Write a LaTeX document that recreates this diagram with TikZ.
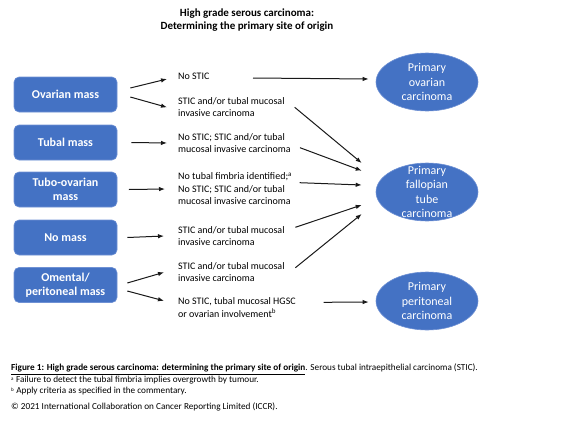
\documentclass[tikz,border=0pt]{standalone}
\usepackage{fontspec}
\setmainfont{Carlito}
\usetikzlibrary{shapes.geometric,arrows.meta}
\definecolor{boxblue}{HTML}{4472C4}
\definecolor{rimblue}{HTML}{6F91D4}

\begin{document}
\begin{tikzpicture}[x=1pt,y=-1pt,
    mass/.style={draw=rimblue, line width=.6pt, fill=boxblue, rounded corners=5pt,
        minimum width=103pt, minimum height=35pt, inner sep=2pt, align=center,
        text=white, font=\fontsize{12}{14.5}\selectfont\bfseries},
    finding/.style={anchor=west, inner sep=2pt, align=left,
        font=\fontsize{10}{12.5}\selectfont},
    origin/.style={ellipse, draw=rimblue, line width=.6pt, fill=boxblue,
        minimum width=102pt, minimum height=58pt, inner xsep=0pt, inner ysep=-8pt,
        align=center, text=white, font=\fontsize{12}{14.5}\selectfont},
    flow/.style={-{Latex[length=6pt,width=4.5pt]}, line width=1pt, black!90}]

    \useasboundingbox (0,0) rectangle (562,421);

    %title:
    \node[align=center, font=\fontsize{11}{12.5}\selectfont\bfseries] (title) at (247,20)
        {High grade serous carcinoma:\\Determining the primary site of origin};

    %draw masses:
    \node[mass] (ovmass) at (65.5,94.5) {Ovarian mass};
    \node[mass] (tubmass) at (65.5,142.5) {Tubal mass};
    \node[mass] (tubovmass) at (65.5,189.5) {Tubo-ovarian\\mass};
    \node[mass] (nomass) at (65.5,237.5) {No mass};
    \node[mass] (omentmass) at (65.5,285) {Omental/\\peritoneal mass};

    %findings:
    \node[finding] (nostic) at (176,76) {No STIC};
    \node[finding] (ovstic) at (176,107.3) {STIC and/or tubal mucosal\\invasive carcinoma};
    \node[finding] (tubstic) at (176,143) {No STIC; STIC and/or tubal\\mucosal invasive carcinoma};
    \node[finding] (fimbria) at (176,189) {No tubal fimbria identified;\textsuperscript{a}\\No STIC; STIC and/or tubal\\mucosal invasive carcinoma};
    \node[finding] (nomstic) at (176,236) {STIC and/or tubal mucosal\\invasive carcinoma};
    \node[finding] (omstic) at (176,272.3) {STIC and/or tubal mucosal\\invasive carcinoma};
    \node[finding] (hgsc) at (176,307.8) {No STIC, tubal mucosal HGSC\\or ovarian involvement\textsuperscript{b}};

    %sites of origin:
    \node[origin] (ovca) at (427,82) {Primary\\ovarian\\carcinoma};
    \node[origin] (ftca) at (427,192) {Primary\\fallopian\\tube\\carcinoma};
    \node[origin] (ppca) at (427,301) {Primary\\peritoneal\\carcinoma};

    %arrows masses to findings:
    \draw[flow] ([xshift=13pt,yshift=6.5pt]ovmass.east) -- ([xshift=-9pt,yshift=-3pt]nostic.west);
    \draw[flow] ([xshift=13pt,yshift=-2.5pt]ovmass.east) -- ([xshift=-9pt]ovstic.west);
    \draw[flow] ([xshift=14pt]tubmass.east) -- ([xshift=-9pt]tubstic.west);
    \draw[flow] ([xshift=11.5pt]tubovmass.east) -- ([xshift=-11pt]fimbria.west);
    \draw[flow] ([xshift=10pt]nomass.east) -- ([xshift=-12pt]nomstic.west);
    \draw[flow] ([xshift=10pt,yshift=2pt]omentmass.east) -- ([xshift=-12pt]omstic.west);
    \draw[flow] ([xshift=10pt,yshift=-6pt]omentmass.east) -- ([xshift=-12pt,yshift=7pt]hgsc.west);

    %arrows findings to sites:
    \draw[flow] ([xshift=77pt,yshift=-2pt]nostic.west) -- ([xshift=-7pt,yshift=3pt]ovca.west);
    \draw[flow] ([xshift=118.7pt]ovstic.west) -- ([xshift=-14pt,yshift=29pt]ftca.west);
    \draw[flow] ([xshift=124pt,yshift=-4.7pt]tubstic.west) -- ([xshift=-14pt,yshift=21.3pt]ftca.west);
    \draw[flow] ([xshift=123.7pt,yshift=6.3pt]fimbria.west) -- ([xshift=-14pt,yshift=7pt]ftca.west);
    \draw[flow] ([xshift=119.4pt,yshift=8.7pt]nomstic.west) -- ([xshift=-14pt,yshift=-13pt]ftca.west);
    \draw[flow] ([xshift=119.4pt,yshift=4.6pt]omstic.west) -- ([xshift=-14pt,yshift=-22pt]ftca.west);
    \draw[flow] ([xshift=147.5pt,yshift=5.5pt]hgsc.west) -- ([xshift=-7pt,yshift=-1pt]ppca.west);

    %caption:
    \node[anchor=west, align=left, inner sep=2pt, font=\fontsize{9.2}{11.2}\selectfont] (caption) at (9,379.8)
        {\underline{\textbf{Figure 1: High grade serous carcinoma: determining the primary site of origin}}. Serous tubal intraepithelial carcinoma (STIC).\\[.6pt]
        {\tiny\textsuperscript{a}} Failure to detect the tubal fimbria implies overgrowth by tumour.\\
        {\tiny\textsuperscript{b}} Apply criteria as specified in the commentary.};
    \node[anchor=west, inner sep=2pt, font=\fontsize{9.2}{11.2}\selectfont] (copyright) at (9,407.3)
        {\textcopyright{} 2021 International Collaboration on Cancer Reporting Limited (ICCR).};

\end{tikzpicture}
\end{document}
